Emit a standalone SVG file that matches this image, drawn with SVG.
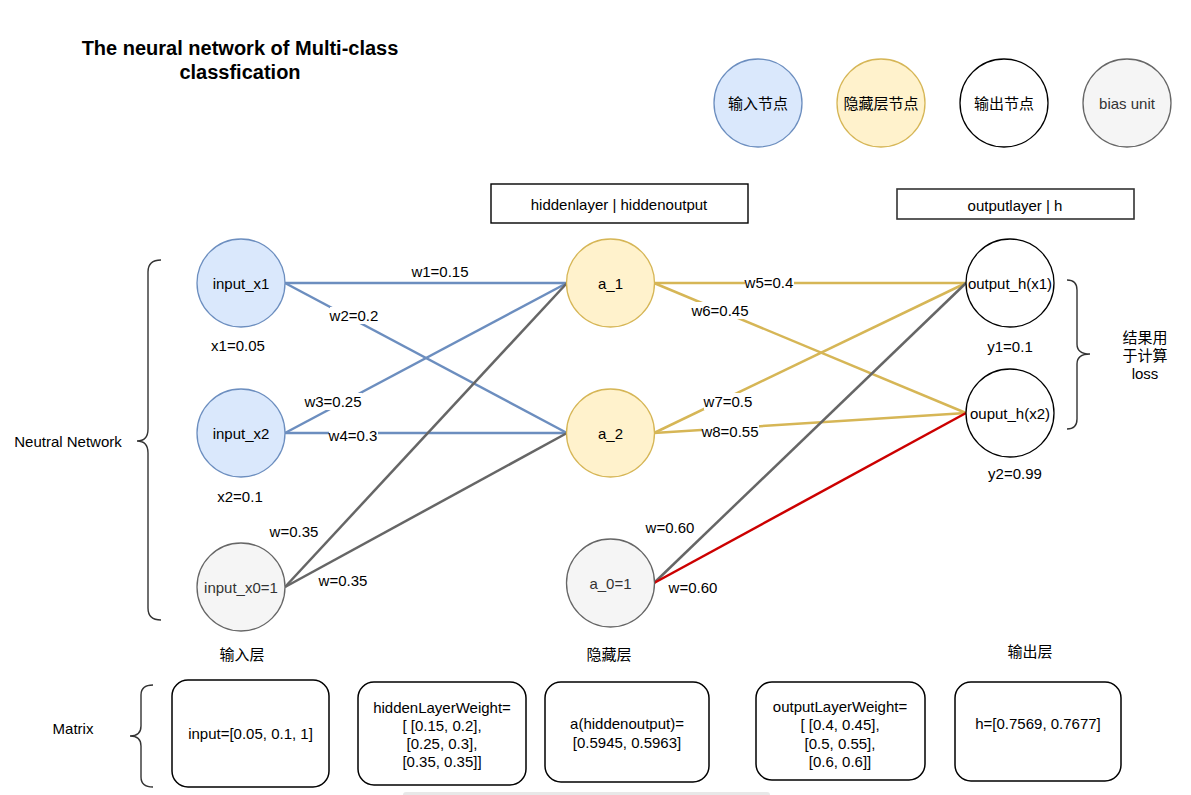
<svg xmlns="http://www.w3.org/2000/svg" width="1191" height="795" viewBox="0 0 1191 795">
<style>
text{font-family:"Liberation Sans",Arial,"Noto Sans CJK SC",sans-serif;font-size:15px;fill:#000;text-anchor:middle;dominant-baseline:central}
.title{font-size:20px;font-weight:bold;dominant-baseline:auto}
.in{fill:#dae8fc;stroke:#6c8ebf;stroke-width:1.3}
.hid{fill:#fff2cc;stroke:#d6b656;stroke-width:1.3}
.out{fill:#fff;stroke:#000;stroke-width:1.3}
.bias{fill:#f5f5f5;stroke:#666;stroke-width:1.3}
.bt{fill:#333}
.box{fill:#fff;stroke:#000;stroke-width:1.4}
.mbox{fill:#fff;stroke:#000;stroke-width:1.5}
.brace{fill:none;stroke:#333;stroke-width:1.4}
.blue{stroke:#6c8ebf;stroke-width:2.5;fill:none}
.gold{stroke:#d6b656;stroke-width:2.5;fill:none}
.grey{stroke:#666;stroke-width:2.5;fill:none}
.red{stroke:#cc0000;stroke-width:2.5;fill:none}
.lbg{fill:#fff}
</style>

<text class="title" x="240" y="55">The neural network of Multi-class</text>
<text class="title" x="240" y="79">classfication</text>

<g id="legend">
<g id="legend-input"><circle class="in" cx="758" cy="103" r="44"/><text x="758" y="103">输入节点</text></g>
<g id="legend-hidden"><circle class="hid" cx="881" cy="103" r="44"/><text x="881" y="103">隐藏层节点</text></g>
<g id="legend-output"><circle class="out" cx="1004" cy="103" r="44"/><text x="1004" y="103">输出节点</text></g>
<g id="legend-bias"><circle class="bias" cx="1127" cy="103" r="44"/><text class="bt" x="1127" y="103">bias unit</text></g>
</g>

<g id="hidden-header"><rect class="box" x="491" y="184" width="257" height="39"/><text x="619" y="204">hiddenlayer | hiddenoutput</text></g>
<g id="output-header"><rect x="897" y="189" width="237" height="30" fill="#fff" stroke="#333" stroke-width="1.6"/><text x="1015" y="205">outputlayer | h</text></g>

<g id="connectors">
<line class="blue" x1="285" y1="283" x2="567" y2="283"/>
<line class="blue" x1="285" y1="283" x2="567" y2="433"/>
<line class="blue" x1="285" y1="433" x2="567" y2="283"/>
<line class="blue" x1="285" y1="433" x2="567" y2="433"/>
<line class="grey" x1="285" y1="587" x2="567" y2="283"/>
<line class="grey" x1="285" y1="587" x2="567" y2="433"/>
<line class="gold" x1="654" y1="283" x2="966" y2="283"/>
<line class="gold" x1="654" y1="283" x2="966" y2="413"/>
<line class="gold" x1="654" y1="433" x2="966" y2="283"/>
<line class="gold" x1="654" y1="433" x2="966" y2="413"/>
<line class="grey" x1="654" y1="583" x2="966" y2="283"/>
<line class="red" x1="654" y1="583" x2="966" y2="413"/>
<g id="edge-labels">
<text x="440" y="271">w1=0.15</text>
<rect class="lbg" x="330" y="307" width="49" height="17"/><text x="354" y="315">w2=0.2</text>
<rect class="lbg" x="305" y="393" width="57" height="17"/><text x="333" y="401">w3=0.25</text>
<rect class="lbg" x="329" y="427" width="49" height="17"/><text x="353" y="435">w4=0.3</text>
<rect class="lbg" x="745" y="274" width="49" height="17"/><text x="769" y="282">w5=0.4</text>
<rect class="lbg" x="692" y="302" width="57" height="17"/><text x="720" y="310">w6=0.45</text>
<rect class="lbg" x="704" y="393" width="49" height="17"/><text x="728" y="401">w7=0.5</text>
<rect class="lbg" x="702" y="423" width="57" height="17"/><text x="730" y="431">w8=0.55</text>
<text x="294" y="531">w=0.35</text>
<text x="343" y="580">w=0.35</text>
<text x="670" y="527">w=0.60</text>
<text x="693" y="587">w=0.60</text>
</g>
</g>

<g id="input_x1"><circle class="in" cx="241" cy="283" r="44"/><text x="241" y="283">input_x1</text></g>
<g id="input_x2"><circle class="in" cx="241" cy="433" r="44"/><text x="241" y="433">input_x2</text></g>
<g id="input_x0"><circle class="bias" cx="241" cy="587" r="44"/><text class="bt" x="241" y="587">input_x0=1</text></g>
<g id="a_1"><circle class="hid" cx="610.5" cy="283" r="44"/><text x="610.5" y="283">a_1</text></g>
<g id="a_2"><circle class="hid" cx="610.5" cy="433" r="44"/><text x="610.5" y="433">a_2</text></g>
<g id="a_0"><circle class="bias" cx="610.5" cy="583" r="44"/><text class="bt" x="610.5" y="583">a_0=1</text></g>
<g id="output_h1"><circle class="out" cx="1010" cy="283" r="44"/><text x="1010" y="283">output_h(x1)</text></g>
<g id="output_h2"><circle class="out" cx="1010" cy="413" r="44"/><text x="1010" y="413">ouput_h(x2)</text></g>

<g id="labels">
<text x="238" y="345">x1=0.05</text>
<text x="240" y="496">x2=0.1</text>
<text x="1010" y="346">y1=0.1</text>
<text x="1015" y="473">y2=0.99</text>
<text x="242" y="654">输入层</text>
<text x="609" y="654">隐藏层</text>
<text x="1030" y="651">输出层</text>
<text x="68" y="441">Neutral Network</text>
<text x="73" y="728">Matrix</text>
<text x="1145" y="337">结果用</text>
<text x="1145" y="355">于计算</text>
<text x="1145" y="373">loss</text>
</g>

<g id="braces">
<path class="brace" d="M161 260 Q148 260 148 272 L148 429 Q148 441 137 441 Q148 441 148 453 L148 608 Q148 620 161 620"/>
<path class="brace" d="M1067 280 Q1077 280 1077 290 L1077 344 Q1077 354 1090 354 Q1077 354 1077 364 L1077 419 Q1077 429 1067 429"/>
<path class="brace" d="M153 685 Q141 685 141 695 L141 726 Q141 736 130 736 Q141 736 141 746 L141 777 Q141 787 153 787"/>
</g>

<g id="matrix-input"><rect class="mbox" x="172" y="680" width="157" height="107" rx="16"/><text x="250.5" y="733">input=[0.05, 0.1, 1]</text></g>
<g id="matrix-hidden-weight"><rect class="mbox" x="358" y="682" width="168" height="103" rx="16"/>
<text x="442" y="707">hiddenLayerWeight=</text><text x="442" y="725">[ [0.15, 0.2],</text><text x="442" y="743"> [0.25, 0.3],</text><text x="442" y="761">[0.35, 0.35]]</text></g>
<g id="matrix-hidden-output"><rect class="mbox" x="545" y="682" width="164" height="100" rx="16"/>
<text x="627" y="723">a(hiddenoutput)=</text><text x="627" y="742">[0.5945, 0.5963]</text></g>
<g id="matrix-output-weight"><rect class="mbox" x="756" y="682" width="169" height="98" rx="16"/>
<text x="840" y="706">outputLayerWeight=</text><text x="840" y="724">[ [0.4, 0.45],</text><text x="840" y="743">[0.5, 0.55],</text><text x="840" y="761">[0.6, 0.6]]</text></g>
<g id="matrix-h"><rect class="mbox" x="955" y="682" width="166" height="99" rx="16"/><text x="1038" y="723">h=[0.7569, 0.7677]</text></g>

<rect x="403" y="792" width="367" height="6" rx="3" fill="#e8e8e8"/>
</svg>
